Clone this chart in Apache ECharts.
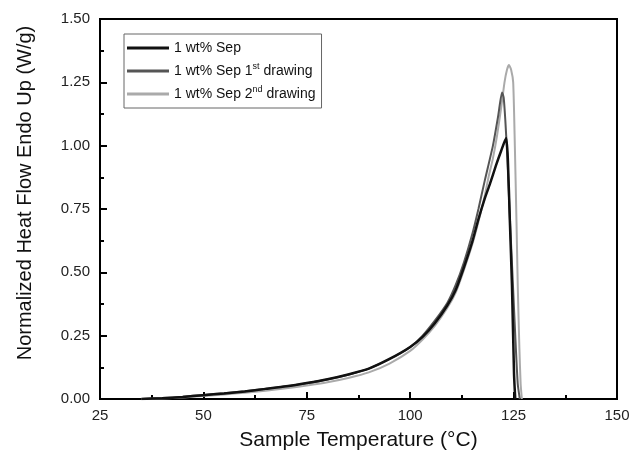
<!DOCTYPE html>
<html>
<head>
<meta charset="utf-8">
<script src="https://cdn.jsdelivr.net/npm/echarts@6/dist/echarts.min.js"></script>
<style>
  html, body { margin: 0; padding: 0; background: #fff; }
  #chart { width: 633px; height: 459px; }
</style>
</head>
<body>
<div id="chart"></div>
<script>
// series names (legend text uses rich superscripts)
const seriesNames = ['1 wt% Sep', '1 wt% Sep 1st drawing', '1 wt% Sep 2nd drawing']
const legendText = ['1 wt% Sep', '1 wt% Sep 1{sup|st} drawing', '1 wt% Sep 2{sup|nd} drawing']
const lineColors = ['#111111', '#555555', '#aaaaaa']

// [temperature °C, heat flow W/g]
const sepPlain = [
  [35, 0], [40, 0.003], [45, 0.008], [50, 0.015], [55, 0.022], [60, 0.03], [65, 0.04],
  [70, 0.05], [75, 0.063], [80, 0.078], [85, 0.097], [90, 0.12], [95, 0.158], [100, 0.205],
  [103, 0.245], [106, 0.3], [109, 0.37], [111, 0.43], [113, 0.52], [115, 0.62],
  [116.5, 0.71], [118, 0.79], [119.3, 0.85], [120.7, 0.92], [122, 0.98], [123.2, 1.03],
  [123.6, 0.95], [124.1, 0.7], [124.6, 0.45], [125.1, 0.1], [125.4, 0]
]
const sepFirst = [
  [35, 0], [40, 0.004], [45, 0.009], [50, 0.016], [55, 0.023], [60, 0.031], [65, 0.04],
  [70, 0.05], [75, 0.062], [80, 0.077], [85, 0.096], [90, 0.12], [95, 0.157], [100, 0.205],
  [103, 0.25], [106, 0.31], [109, 0.38], [111, 0.45], [113, 0.54], [115, 0.65],
  [116.5, 0.75], [118, 0.86], [120, 1.0], [121.3, 1.12], [122.2, 1.21], [122.6, 1.19],
  [123, 1.1], [123.5, 0.95], [124, 0.75], [124.7, 0.5], [125.4, 0.25], [126, 0.06], [126.5, 0]
]
const sepSecond = [
  [35, 0], [40, 0.002], [45, 0.006], [50, 0.012], [55, 0.018], [60, 0.025], [65, 0.033],
  [70, 0.042], [75, 0.053], [80, 0.066], [85, 0.083], [90, 0.105], [95, 0.14], [100, 0.19],
  [103, 0.235], [106, 0.29], [109, 0.36], [111, 0.42], [113, 0.51], [115, 0.61],
  [116.5, 0.7], [118, 0.8], [119, 0.88], [120, 0.95], [121, 1.04], [122, 1.15],
  [122.8, 1.25], [123.4, 1.3], [123.9, 1.318], [124.4, 1.3], [124.9, 1.25], [125.3, 1.0],
  [125.7, 0.7], [126, 0.45], [126.4, 0.2], [126.7, 0.06], [127, 0]
]
const seriesData = [sepPlain, sepFirst, sepSecond]
const lineWidths = [2.5, 2, 2]

const chart = echarts.init(document.getElementById('chart'))
const font = 'Liberation Sans, Arial, sans-serif'

chart.setOption({
  animation: false,
  backgroundColor: '#fff',
  grid: {
    left: 100, right: 16, top: 19, bottom: 60,
    show: true, borderColor: '#000', borderWidth: 2
  },
  legend: {
    orient: 'vertical',
    left: 124, top: 34,
    padding: [5, 6, 5, 3],
    itemGap: 5,
    itemWidth: 42,
    itemHeight: 3,
    icon: 'rect',
    borderColor: '#666', borderWidth: 1,
    data: seriesNames,
    formatter: name => legendText[seriesNames.indexOf(name)],
    textStyle: {
      fontFamily: font, fontSize: 14, color: '#111', lineHeight: 18,
      rich: {
        sup: { fontSize: 9, fontFamily: font, verticalAlign: 'top', lineHeight: 18, padding: [0, 0, 7, 0] }
      }
    }
  },
  xAxis: {
    type: 'value',
    min: 25, max: 150, interval: 25,
    name: 'Sample Temperature (°C)',
    nameLocation: 'middle', nameGap: 31,
    nameTextStyle: { fontFamily: font, fontSize: 21, color: '#111' },
    axisLine: { lineStyle: { color: '#000', width: 2 } },
    axisTick: { inside: true, length: 7, lineStyle: { color: '#000', width: 2 } },
    minorTick: { show: true, splitNumber: 2, length: 4, lineStyle: { color: '#000', width: 2 } },
    axisLabel: { fontFamily: font, fontSize: 15, color: '#222', margin: 9 },
    splitLine: { show: false }
  },
  yAxis: {
    type: 'value',
    min: 0, max: 1.5, interval: 0.25,
    name: 'Normalized Heat Flow Endo Up (W/g)',
    nameLocation: 'middle', nameGap: 65,
    nameTextStyle: { fontFamily: font, fontSize: 20, color: '#111', padding: [0, 0, 0, 32] },
    axisLine: { lineStyle: { color: '#000', width: 2 } },
    axisTick: { inside: true, length: 7, lineStyle: { color: '#000', width: 2 } },
    minorTick: { show: true, splitNumber: 2, length: 4, lineStyle: { color: '#000', width: 2 } },
    axisLabel: { fontFamily: font, fontSize: 15, color: '#222', margin: 10, formatter: v => v.toFixed(2) },
    splitLine: { show: false }
  },
  series: seriesNames.map((name, i) => ({
    name,
    type: 'line',
    data: seriesData[i],
    showSymbol: false,
    symbol: 'none',
    smooth: 0.2,
    color: lineColors[i],
    lineStyle: { color: lineColors[i], width: lineWidths[i] },
    z: 3 - i
  }))
})
</script>
</body>
</html>
